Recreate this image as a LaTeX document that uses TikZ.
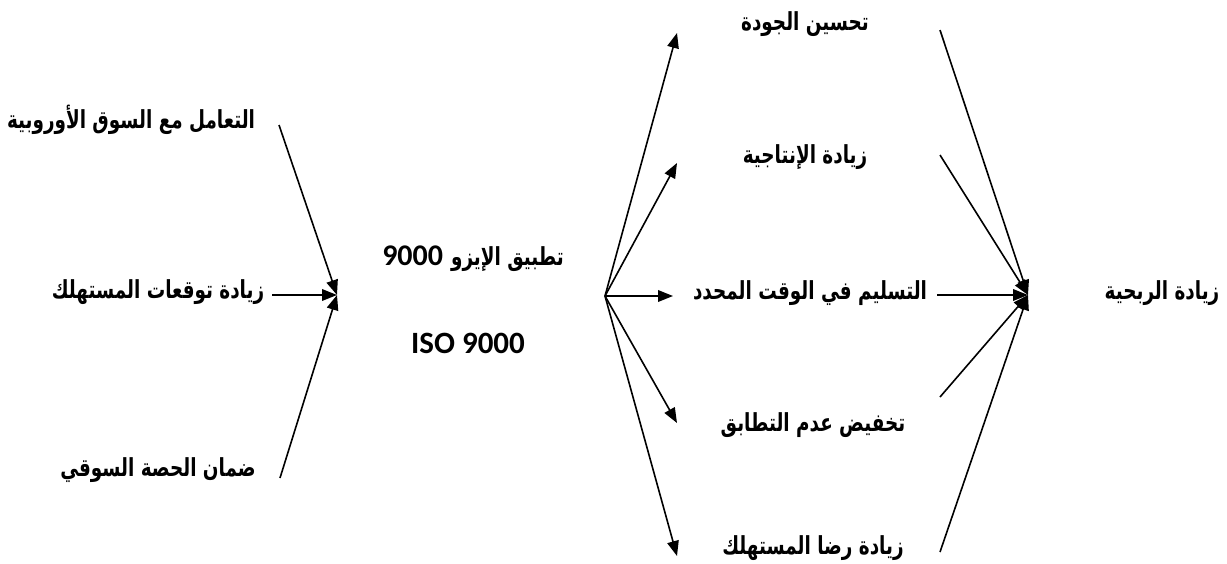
\documentclass[tikz,border=0pt]{standalone}
\usepackage{fontspec}
\usepackage{graphicx}
\usetikzlibrary{arrows.meta}
\TeXXeTstate=1
\newfontfamily\arabicfont[Script=Arabic]{DejaVu Sans}
\newfontfamily\latinfont{Carlito}

% right-to-left label, set a little taller than the font's own proportions
\newcommand\artxt[1]{\scalebox{1}[1.35]{\beginR #1\endR}}
\newcommand\latnum[1]{{\latinfont\bfseries\fontsize{15}{17}\selectfont #1}}

\tikzset{
  lbl/.style={font=\arabicfont\bfseries\fontsize{9.2}{11}\selectfont, inner sep=0pt},
  isolbl/.style={font=\latinfont\bfseries\fontsize{15.5}{17}\selectfont, inner sep=0pt},
  arr/.style={line width=0.8pt, -{Triangle[length=7.5pt,width=5.8pt]}},
}

\begin{document}
\begin{tikzpicture}[x=0.5pt,y=-0.5pt]
\useasboundingbox (0,0) rectangle (1227,563);

% causes on the left
\node[lbl] (l1) at (131,120) {\artxt{التعامل مع السوق الأوروبية}};
\node[lbl] (l2) at (158,292) {\artxt{زيادة توقعات المستهلك}};
\node[lbl] (l3) at (158,470) {\artxt{ضمان الحصة السوقي}};

% central node: the number sits to the left of the Arabic words
\node[lbl] (c1) at (473,259) {\latnum{9000}\hspace{4pt}\artxt{تطبيق الإيزو}};
\node[isolbl] (c2) at (468,343) {ISO 9000};

% effects
\node[lbl] (r1) at (805,24) {\artxt{تحسين الجودة}};
\node[lbl] (r2) at (805,157) {\artxt{زيادة الإنتاجية}};
\node[lbl] (r3) at (810,293) {\artxt{التسليم في الوقت المحدد}};
\node[lbl] (r4) at (813,425) {\artxt{تخفيض عدم التطابق}};
\node[lbl] (r5) at (813,548) {\artxt{زيادة رضا المستهلك}};

% final outcome
\node[lbl] (f) at (1162,293) {\artxt{زيادة الربحية}};

% junction points
\coordinate (in) at (337,295);
\coordinate (hub) at (605,296);
\coordinate (out) at (1028,295);

% free ends of the connectors
\coordinate (a1) at (279,125);
\coordinate (a2) at (272,295);
\coordinate (a3) at (280,478);

\coordinate (t1) at (677,33);
\coordinate (t2) at (677,163);
\coordinate (t3) at (673,296);
\coordinate (t4) at (677,423);
\coordinate (t5) at (677,556);

\coordinate (b1) at (940,30);
\coordinate (b2) at (940,155);
\coordinate (b3) at (937,295);
\coordinate (b4) at (940,397);
\coordinate (b5) at (940,552);

% converging arrows into the central node
\draw[arr] (a1) -- (in);
\draw[arr] (a2) -- (in);
\draw[arr] (a3) -- (in);

% fan of effects
\foreach \t in {t1,t2,t3,t4,t5}
  \draw[arr] (hub) -- (\t);

% effects leading to profitability
\foreach \b in {b1,b2,b3,b4,b5}
  \draw[arr] (\b) -- (out);
\end{tikzpicture}
\end{document}
